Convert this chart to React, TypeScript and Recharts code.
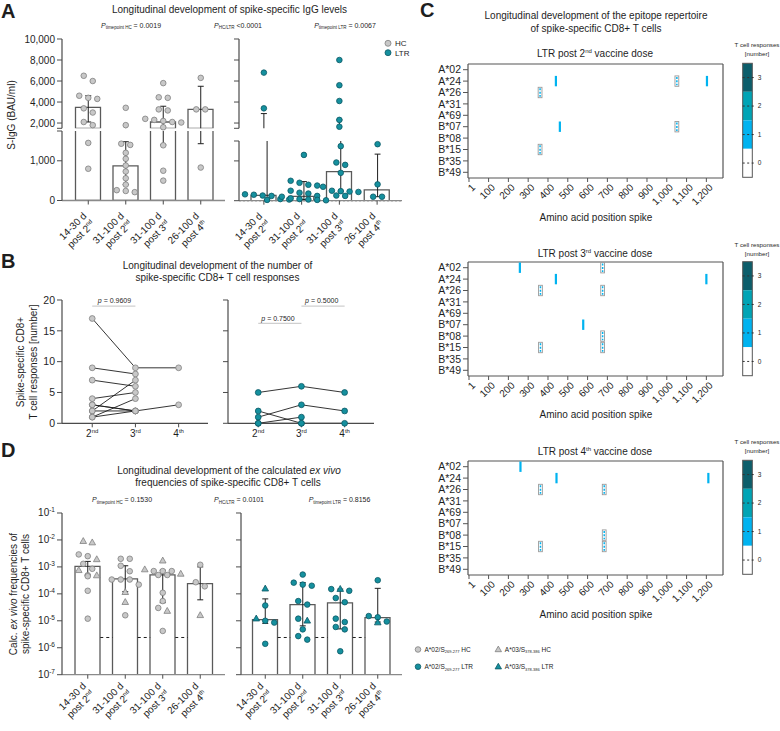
import React from 'react';
import {
  ComposedChart,
  ScatterChart,
  Bar,
  Line,
  Scatter,
  XAxis,
  YAxis,
  ReferenceLine,
} from 'recharts';

const FONT = '"Liberation Sans", Arial, Helvetica, sans-serif';
const INK = '#1e1e1e';
const AXIS = '#4a4a4a';
const GRAY_AXIS = '#8a8a8a';
const FRAME = '#555555';
const BAR_STROKE = '#5a5a5a';
const HC = { fill: '#c8c8c8', stroke: '#808080' };
const LTR = { fill: '#15909e', stroke: '#0b5864' };
const COUNT_COLORS = ['#ffffff', '#00b3f0', '#00a4b5', '#0c5e6b'];

// categories shared by panels A and D
const TIME_RANGE = ['14-30 d', '31-100 d', '31-100 d', '26-100 d'];
const TIME_DOSE = [2, 2, 3, 4];
const KEYS = TIME_RANGE.map((t, i) => `${t} post ${TIME_DOSE[i]}`);

// A: spike-specific IgG, BAU/ml
const IGG_HC = [
  [6500, 6000, 4600, 4400, 4300, 3400, 3000, 2100, 1800, 1450, 800],
  [3450, 1800, 1430, 1400, 1200, 1050, 880, 730, 560, 400, 260, 240, 210],
  [5800, 4450, 4400, 3300, 3200, 2400, 2300, 2200, 2100, 2050, 1600, 1390, 750, 500],
  [6300, 3300, 3300, 830],
];
const IGG_HC_MED = [3500, 870, 2100, 3300];
const IGG_HC_LO = [2100, 400, 1400, 1430];
const IGG_HC_HI = [4600, 1480, 3600, 5500];
const IGG_LTR = [
  [6800, 3400, 160, 150, 130, 120, 40, 30, 20],
  [1150, 500, 450, 400, 380, 250, 200, 180, 120, 100, 60, 40, 30, 20, 10],
  [8000, 5600, 4100, 2300, 1650, 1370, 960, 900, 700, 350, 250, 240, 230, 220, 130, 120],
  [1420, 410, 100, 100],
];
const IGG_LTR_MED = [135, 110, 730, 270];
const IGG_LTR_LO = [30, 30, 240, 100];
const IGG_LTR_HI = [2900, 480, 2300, 1170];
const IGG_UP_DOMAIN = [1500, 10000];
const IGG_UP_TICKS = [1500, 2000, 4000, 6000, 8000, 10000];

// B: number of CD8+ T cell responses per individual (2nd, 3rd, 4th dose)
const DOSES = [2, 3, 4];
const CD8_HC = [
  [17, 9, 9],
  [9, 8],
  [7, 6],
  [4, 5],
  [3, 2],
  [2, 7],
  [1, 4],
  [2, 2, 3],
  [1, 2],
  [3, 2],
];
const CD8_LTR = [
  [5, 6, 5],
  [1, 3, 2],
  [2, 0],
  [0, 1],
  [0, 0, 0],
];

// D: calculated ex vivo frequencies
const FREQ_HC_A02 = [
  [2.9e-3, 2.5e-3, 1.3e-3, 8.5e-4, 4.9e-4, 4.5e-4, 1.3e-4, 1.2e-5],
  [2e-3, 2e-3, 1.1e-3, 6.9e-4, 3.4e-4, 3.4e-4, 3.4e-4, 2.2e-4, 1.6e-5],
  [7e-4, 7e-4, 7e-4, 5e-4, 5e-4, 1.1e-4, 5.4e-5, 3e-5, 4.2e-6],
  [1.2e-3, 2.7e-4, 1.9e-4],
];
const FREQ_HC_A03 = [
  [8e-3, 9e-3, 1.9e-3, 7.5e-4, 4.8e-4],
  [1.15e-4, 4.9e-5],
  [1.7e-3, 8e-4, 5.5e-4, 2.3e-5],
  [1.6e-5],
];
const FREQ_HC_MED = [1.05e-3, 3.6e-4, 5.1e-4, 2.4e-4];
const FREQ_HC_LO = [5e-4, 1.2e-4, 4.7e-5, 6e-5];
const FREQ_HC_HI = [1.6e-3, 1.1e-3, 7.5e-4, 1e-3];
const FREQ_LTR_A02 = [
  [3.7e-5, 1e-5, 8.6e-6, 1.4e-6],
  [5.2e-4, 2.2e-4, 2.6e-4, 2e-4, 5.4e-5, 4e-5, 1.2e-5, 4.8e-6, 2e-6, 2.7e-6],
  [1.3e-4, 1.5e-4, 7e-5, 4.9e-5, 1.2e-5, 9e-6, 5.9e-6, 4.8e-6, 7.4e-7],
  [3.2e-4, 1.35e-5, 1.5e-5, 9.4e-6],
];
const FREQ_LTR_A03 = [[1.55e-4, 1.2e-5], [1e-5], [1.5e-4], [8.6e-6]];
const FREQ_LTR_MED = [1.1e-5, 4e-5, 4.6e-5, 1.3e-5];
const FREQ_LTR_LO = [8e-6, 6.5e-6, 5e-6, 9e-6];
const FREQ_LTR_HI = [6.5e-5, 2.6e-4, 1.5e-4, 1.6e-4];
const FREQ_DOMAIN = [1e-7, 1e-1];
const FREQ_TICKS = [1e-7, 1e-6, 1e-5, 1e-4, 1e-3, 1e-2, 1e-1];
const FREQ_LOD = 2.4e-6;

// C: epitope map
const ALLELES = ['A*02', 'A*24', 'A*26', 'A*31', 'A*69', 'B*07', 'B*08', 'B*15', 'B*35', 'B*49'];
const POS_TICKS = [1, 100, 200, 300, 400, 500, 600, 700, 800, 900, 1000, 1100, 1200];
const POS_DOMAIN = [-4, 1284];
const EPI_POST2 = [
  { allele: 'A*24', pos: 440, n: 1, hatch: false },
  { allele: 'A*24', pos: 1051, n: 1, hatch: true },
  { allele: 'A*24', pos: 1203, n: 1, hatch: false },
  { allele: 'A*26', pos: 360, n: 1, hatch: true },
  { allele: 'B*07', pos: 460, n: 1, hatch: false },
  { allele: 'B*07', pos: 1051, n: 1, hatch: true },
  { allele: 'B*15', pos: 360, n: 1, hatch: true },
];
const EPI_POST3 = [
  { allele: 'A*02', pos: 258, n: 1, hatch: false },
  { allele: 'A*02', pos: 676, n: 1, hatch: true },
  { allele: 'A*24', pos: 440, n: 1, hatch: false },
  { allele: 'A*24', pos: 1200, n: 1, hatch: false },
  { allele: 'A*26', pos: 362, n: 1, hatch: true },
  { allele: 'A*26', pos: 676, n: 1, hatch: true },
  { allele: 'B*07', pos: 578, n: 1, hatch: false },
  { allele: 'B*08', pos: 676, n: 1, hatch: true },
  { allele: 'B*15', pos: 362, n: 1, hatch: true },
  { allele: 'B*15', pos: 676, n: 1, hatch: true },
];
const EPI_POST4 = [
  { allele: 'A*02', pos: 261, n: 1, hatch: false },
  { allele: 'A*24', pos: 443, n: 1, hatch: false },
  { allele: 'A*24', pos: 1210, n: 1, hatch: false },
  { allele: 'A*26', pos: 362, n: 1, hatch: true },
  { allele: 'A*26', pos: 684, n: 1, hatch: true },
  { allele: 'B*08', pos: 684, n: 1, hatch: true },
  { allele: 'B*15', pos: 362, n: 1, hatch: true },
  { allele: 'B*15', pos: 684, n: 1, hatch: true },
];

type Rect = { x: number; y: number; w: number; h: number };

// plot rectangles (page px)
const A_UP_L = { x: 62, y: 39, w: 163, h: 89.3 };
const A_LO_L = { x: 62, y: 131.2, w: 163, h: 69.5 };
const A_UP_R = { x: 239, y: 39, w: 163, h: 89.3 };
const A_LO_R = { x: 239, y: 141, w: 163, h: 59.7 };
const B_L = { x: 62, y: 300, w: 146, h: 123.3 };
const B_R = { x: 227.5, y: 300, w: 146, h: 123.3 };
const D_L = { x: 62, y: 513.3, w: 163, h: 161.7 };
const D_R = { x: 240.7, y: 513.3, w: 161, h: 161.7 };
const BAND = 37.5;
const HALF_BAR = 12.5 / BAND;
const CAP = 3 / BAND;

const PAD = 70;
// visible axes reserve their own room; everything else goes into the margin
function frame(r: Rect, o: { x?: boolean; y?: boolean; top?: boolean; right?: boolean }) {
  return {
    style: { position: 'absolute' as const, left: r.x - PAD, top: r.y - PAD },
    width: r.w + 2 * PAD,
    height: r.h + 2 * PAD,
    margin: {
      top: o.top ? PAD - 1 : PAD,
      right: o.right ? PAD - 1 : PAD,
      bottom: o.x ? 0 : PAD,
      left: o.y ? 0 : PAD,
    },
  };
}

const lin = (v: number, r: Rect, d: number[]) => r.y + r.h - ((v - d[0]) / (d[1] - d[0])) * r.h;
const logPx = (v: number, r: Rect, d: number[]) =>
  r.y + r.h - ((Math.log10(v) - Math.log10(d[0])) / (Math.log10(d[1]) - Math.log10(d[0]))) * r.h;

// simple beeswarm: points closer than `gap` px vertically share a row and get spread sideways
function swarm(py: number[], gap = 5.5, step = 9) {
  const order = py.map((_, i) => i).sort((a, b) => py[a] - py[b]);
  const dx = py.map(() => 0);
  let i = 0;
  while (i < order.length) {
    let j = i;
    while (j + 1 < order.length && py[order[j + 1]] - py[order[i]] < gap) j++;
    const n = j - i + 1;
    for (let k = 0; k < n; k++) dx[order[i + k]] = (k - (n - 1) / 2) * step;
    i = j + 1;
  }
  return dx;
}

type Pt = { x: number; y: number; kind: string };
function spread(series: { kind: string; groups: number[][] }[], toPx: (v: number) => number): Pt[] {
  const out: Pt[] = [];
  KEYS.forEach((_, g) => {
    const col = series.flatMap((s) => s.groups[g].map((v) => ({ v, kind: s.kind })));
    const dx = swarm(col.map((c) => toPx(c.v)));
    col.forEach((c, i) => out.push({ x: g + 1 + dx[i] / BAND, y: c.v, kind: c.kind }));
  });
  return out;
}

const ord = (n: number) => (n === 2 ? 'nd' : n === 3 ? 'rd' : 'th');
const blank = () => '';

function TimeTick(props: any) {
  const { x, y, payload, dy = 10 } = props;
  const i = KEYS.indexOf(payload.value);
  if (i < 0) return <g />;
  return (
    <g transform={`translate(${x - 1},${y + dy}) rotate(-45)`} fill={INK} fontFamily={FONT} fontSize={10}>
      <text textAnchor="end">{TIME_RANGE[i]}</text>
      <text textAnchor="end" y={11.5}>
        post {TIME_DOSE[i]}
        <tspan fontSize={6} dy={-4}>
          {ord(TIME_DOSE[i])}
        </tspan>
      </text>
    </g>
  );
}

function LogTick({ x, y, payload }: any) {
  const e = Math.round(Math.log10(payload.value));
  return (
    <text x={x} y={y} dy={3.5} textAnchor="end" fontSize={10} fill={INK} fontFamily={FONT}>
      10
      <tspan fontSize={6.5} dy={-4}>
        {e}
      </tspan>
    </text>
  );
}

function DoseTick({ x, y, payload }: any) {
  const n = payload.value;
  return (
    <text x={x} y={y + 8} textAnchor="middle" fontSize={10} fill={INK} fontFamily={FONT}>
      {n}
      <tspan fontSize={6} dy={-4}>
        {ord(n)}
      </tspan>
    </text>
  );
}

const mark = (c: { fill: string; stroke: string }, r = 2.8) => (p: any) => {
  const { cx, cy, payload } = p;
  if (cx == null || cy == null) return <g />;
  if (payload && payload.kind === 'tri')
    return (
      <polygon
        points={`${cx},${cy - 3.6} ${cx - 3.3},${cy + 2.3} ${cx + 3.3},${cy + 2.3}`}
        fill={c.fill}
        stroke={c.stroke}
        strokeWidth={0.8}
      />
    );
  return <circle cx={cx} cy={cy} r={r} fill={c.fill} stroke={c.stroke} strokeWidth={0.8} />;
};

const axisTick = { fontSize: 10, fill: INK, fontFamily: FONT };

function BarDotChart(p: any) {
  const f = frame(p.r, { x: p.showX, y: true });
  const [d0, d1] = p.domain;
  // bars whose median lies below a broken-axis segment are not drawn in that segment
  const data = KEYS.map((k, i) => ({ k, med: p.med[i] >= d0 ? p.med[i] : null }));
  const scale = p.log ? 'log' : 'linear';
  const inside = (v: number) => v >= d0 && v <= d1;
  // dashed limit line only in the gaps between bars
  const gaps: number[][] = [];
  if (p.lod != null) {
    let from = 0.5 - p.pad.left / BAND;
    KEYS.forEach((_, g) => {
      gaps.push([from, g + 1 - HALF_BAR]);
      from = g + 1 + HALF_BAR;
    });
    gaps.push([from, 4.5 + p.pad.right / BAND]);
  }
  return (
    <div style={f.style}>
      <ComposedChart width={f.width} height={f.height} margin={f.margin} data={data}>
        <XAxis
          dataKey="k"
          height={PAD}
          padding={p.pad}
          hide={!p.showX}
          interval={0}
          axisLine={{ stroke: GRAY_AXIS, strokeWidth: 1.3 }}
          tickLine={{ stroke: AXIS }}
          tickSize={4}
          tick={<TimeTick dy={p.labelDy} />}
        />
        <XAxis xAxisId="n" dataKey="x" type="number" domain={[0.5, 4.5]} padding={p.pad} hide height={0} />
        <YAxis
          yAxisId="b"
          type="number"
          scale={scale}
          domain={p.domain}
          ticks={p.ticks}
          allowDataOverflow
          width={PAD}
          interval={0}
          axisLine={{ stroke: AXIS, strokeWidth: 1.2 }}
          tickLine={{ stroke: AXIS }}
          tickSize={5}
          tickMargin={2}
          tick={p.yTick || axisTick}
          tickFormatter={p.fmt}
        />
        <YAxis yAxisId="s" type="number" scale={scale} domain={p.domain} ticks={p.ticks} hide width={0} />
        {p.refY != null && (
          <ReferenceLine yAxisId="b" y={p.refY} stroke={INK} strokeWidth={1} strokeDasharray={p.refDash} />
        )}
        <Bar
          yAxisId="b"
          dataKey="med"
          barSize={25}
          fill="#fff"
          stroke={BAR_STROKE}
          strokeWidth={1.3}
          isAnimationActive={false}
        />
        {gaps.map(([a, b], i) => (
          <ReferenceLine
            key={'g' + i}
            xAxisId="n"
            yAxisId="b"
            segment={[
              { x: a, y: p.lod },
              { x: b, y: p.lod },
            ]}
            stroke={INK}
            strokeWidth={1}
            strokeDasharray="3 3"
          />
        ))}
        {KEYS.map((_, g) => (
          <ReferenceLine
            key={'w' + g}
            xAxisId="n"
            yAxisId="b"
            ifOverflow="hidden"
            segment={[
              { x: g + 1, y: p.lo[g] },
              { x: g + 1, y: p.hi[g] },
            ]}
            stroke={INK}
            strokeWidth={1}
          />
        ))}
        {KEYS.flatMap((_, g) =>
          [p.lo[g], p.hi[g]].filter(inside).map((v, j) => (
            <ReferenceLine
              key={'c' + g + '-' + j}
              xAxisId="n"
              yAxisId="b"
              segment={[
                { x: g + 1 - CAP, y: v },
                { x: g + 1 + CAP, y: v },
              ]}
              stroke={INK}
              strokeWidth={1}
            />
          ))
        )}
        <Scatter
          xAxisId="n"
          yAxisId="s"
          data={p.points}
          dataKey="y"
          shape={mark(p.col)}
          isAnimationActive={false}
        />
      </ComposedChart>
    </div>
  );
}

function CountChart({ r, series, col, labels }: any) {
  const f = frame(r, { x: true, y: true });
  const dots = series.flatMap((s: number[]) => s.map((v, i) => ({ dose: DOSES[i], v })));
  const bracket = (a: number, b: number, y: number) => (
    <ReferenceLine
      key={`${a}-${y}`}
      segment={[
        { x: a, y },
        { x: b, y },
      ]}
      stroke="#cfcfcf"
      strokeWidth={1.3}
    />
  );
  return (
    <div style={f.style}>
      <ComposedChart width={f.width} height={f.height} margin={f.margin}>
        <XAxis
          type="number"
          dataKey="dose"
          domain={[1.3, 4.68]}
          ticks={DOSES}
          interval={0}
          height={PAD}
          axisLine={{ stroke: AXIS, strokeWidth: 1.2 }}
          tickLine={{ stroke: AXIS }}
          tickSize={4}
          tick={<DoseTick />}
        />
        <YAxis
          type="number"
          domain={[0, 20]}
          ticks={[0, 5, 10, 15, 20]}
          interval={0}
          width={PAD}
          axisLine={{ stroke: AXIS, strokeWidth: 1.2 }}
          tickLine={{ stroke: AXIS }}
          tickSize={5}
          tickMargin={2}
          tick={{ ...axisTick, fontSize: 10.5 }}
          tickFormatter={labels ? undefined : blank}
        />
        {series.map((s: number[], k: number) => (
          <Line
            key={k}
            data={s.map((v, i) => ({ dose: DOSES[i], v }))}
            dataKey="v"
            stroke={INK}
            strokeWidth={0.9}
            dot={false}
            isAnimationActive={false}
          />
        ))}
        <Scatter data={dots} dataKey="v" shape={mark(col, 2.9)} isAnimationActive={false} />
        {labels ? bracket(2, 3, 19) : [bracket(2, 3, 16.2), bracket(3, 4, 19)]}
      </ComposedChart>
    </div>
  );
}

const epiShape = (band: number) => (p: any) => {
  const { cx, cy, payload } = p;
  if (cx == null || cy == null) return <g />;
  const h = band - 1;
  if (payload.hatch)
    return (
      <g>
        <rect x={cx - 1.9} y={cy - h / 2} width={3.8} height={h} fill="#fff" stroke="#9a9a9a" strokeWidth={0.9} />
        <line
          x1={cx}
          x2={cx}
          y1={cy - h / 2 + 1}
          y2={cy + h / 2 - 1}
          stroke={COUNT_COLORS[payload.n]}
          strokeWidth={1.5}
          strokeDasharray="2 1.4"
        />
      </g>
    );
  return <rect x={cx - 1.1} y={cy - h / 2} width={2.2} height={h} fill={COUNT_COLORS[payload.n]} />;
};

function EpiMap({ top, data }: any) {
  const r = { x: 468.3, y: top, w: 255, h: 114 };
  const f = frame(r, { x: true, y: true, top: true, right: true });
  const pts = data.map((d: any) => ({ pos: d.pos, row: ALLELES.indexOf(d.allele), n: d.n, hatch: d.hatch }));
  const band = r.h / ALLELES.length;
  const line = { stroke: FRAME, strokeWidth: 1.2 };
  return (
    <div style={f.style}>
      <ScatterChart width={f.width} height={f.height} margin={f.margin}>
        <XAxis
          type="number"
          dataKey="pos"
          domain={POS_DOMAIN}
          ticks={POS_TICKS}
          interval={0}
          allowDataOverflow
          height={PAD}
          axisLine={line}
          tickLine={{ stroke: FRAME }}
          tickSize={4}
          tickMargin={1}
          tick={{ ...axisTick, angle: -45, textAnchor: 'end', dx: 2 }}
          tickFormatter={(v: number) => v.toLocaleString('en-US')}
        />
        <XAxis
          xAxisId="top"
          orientation="top"
          type="number"
          domain={POS_DOMAIN}
          height={1}
          tick={false}
          tickLine={false}
          axisLine={line}
        />
        <YAxis
          type="number"
          dataKey="row"
          domain={[-0.5, ALLELES.length - 0.5]}
          reversed
          ticks={ALLELES.map((_, i) => i)}
          interval={0}
          width={PAD}
          axisLine={line}
          tickLine={{ stroke: FRAME }}
          tickSize={5}
          tickMargin={2}
          tick={{ ...axisTick, fontSize: 10.5 }}
          tickFormatter={(i: number) => ALLELES[i]}
        />
        <YAxis
          yAxisId="right"
          orientation="right"
          type="number"
          domain={[0, 1]}
          width={1}
          tick={false}
          tickLine={false}
          axisLine={line}
        />
        <Scatter data={pts} shape={epiShape(band)} isAnimationActive={false} />
      </ScatterChart>
    </div>
  );
}

function PVal({ x, y, sub, val }: any) {
  return (
    <text x={x} y={y} textAnchor="middle" fontSize={7}>
      <tspan fontStyle="italic">P</tspan>
      <tspan fontSize={4.5} dy={1.5}>
        {sub}
      </tspan>
      <tspan dy={-1.5}>{val}</tspan>
    </text>
  );
}

function ColorBar({ top, titleY }: any) {
  const x = 742.7;
  const w = 9.6;
  const h = 114;
  const seg = h / 4;
  const levels = [3, 2, 1, 0];
  return (
    <g>
      <text x={757} y={titleY} fontSize={6.2} textAnchor="middle">
        T cell responses
      </text>
      <text x={757} y={titleY + 9} fontSize={6.2} textAnchor="middle">
        [number]
      </text>
      {levels.map((n, i) => (
        <rect key={'r' + n} x={x} y={top + i * seg} width={w} height={seg} fill={COUNT_COLORS[n]} />
      ))}
      <rect x={x} y={top} width={w} height={h} fill="none" stroke={FRAME} strokeWidth={1} />
      {levels.map((n, i) => {
        const cy = top + (i + 0.5) * seg;
        return (
          <g key={'t' + n}>
            <line x1={x} x2={x + w + 2.5} y1={cy} y2={cy} stroke="#333" strokeDasharray="2 2.5" strokeWidth={1} />
            <text x={x + 15} y={cy + 2.3} fontSize={6.5}>
              {n}
            </text>
          </g>
        );
      })}
    </g>
  );
}

function LegendItem({ x, y, col, tri, sub, tail }: any) {
  return (
    <g>
      {tri ? (
        <polygon
          points={`${x},${y - 3.4} ${x - 3.2},${y + 2.2} ${x + 3.2},${y + 2.2}`}
          fill={col.fill}
          stroke={col.stroke}
          strokeWidth={0.8}
        />
      ) : (
        <circle cx={x} cy={y} r={2.8} fill={col.fill} stroke={col.stroke} strokeWidth={0.8} />
      )}
      <text x={x + 6.5} y={y + 2.3} fontSize={6.5}>
        {tri ? 'A*03/S' : 'A*02/S'}
        <tspan fontSize={4} dy={1.5}>
          {sub}
        </tspan>
        <tspan dy={-1.5}>{tail}</tspan>
      </text>
    </g>
  );
}

function Overlay() {
  return (
    <svg width={780} height={731} style={{ position: 'absolute', left: 0, top: 0, pointerEvents: 'none' }}>
      <g fill={INK} fontFamily={FONT}>
        <text x={1} y={18} fontSize={20} fontWeight="bold">A</text>
        <text x={1} y={268} fontSize={20} fontWeight="bold">B</text>
        <text x={420} y={17} fontSize={20} fontWeight="bold">C</text>
        <text x={1} y={457} fontSize={20} fontWeight="bold">D</text>

        {/* A */}
        <text x={229.5} y={12.5} fontSize={10} textAnchor="middle">
          Longitudinal development of spike-specific IgG levels
        </text>
        <PVal x={131} y={27.5} sub="timepoint HC" val=" = 0.0019" />
        <PVal x={238} y={27.5} sub="HC/LTR" val=" <0.0001" />
        <PVal x={345} y={27.5} sub="timepoint LTR" val=" = 0.0067" />
        <circle cx={388} cy={43.3} r={3} fill={HC.fill} stroke={HC.stroke} strokeWidth={0.8} />
        <text x={395} y={46.3} fontSize={8}>HC</text>
        <circle cx={388} cy={52.7} r={3} fill={LTR.fill} stroke={LTR.stroke} strokeWidth={0.8} />
        <text x={395} y={55.7} fontSize={8}>LTR</text>
        <text transform="translate(15,115) rotate(-90)" fontSize={10} textAnchor="middle">
          S-IgG (BAU/ml)
        </text>

        {/* B */}
        <text x={217.5} y={268.5} fontSize={10} textAnchor="middle">
          Longitudinal development of the number of
        </text>
        <text x={217.5} y={281} fontSize={10} textAnchor="middle">
          spike-specific CD8+ T cell responses
        </text>
        <text transform="translate(24,362) rotate(-90)" fontSize={10} textAnchor="middle">
          Spike-specific CD8+
        </text>
        <text transform="translate(36.5,362) rotate(-90)" fontSize={10} textAnchor="middle">
          T cell responses [number]
        </text>
        <text x={114.5} y={303} fontSize={7} textAnchor="middle">
          <tspan fontStyle="italic">p</tspan> = 0.9609
        </text>
        <text x={278} y={320.5} fontSize={7} textAnchor="middle">
          <tspan fontStyle="italic">p</tspan> = 0.7500
        </text>
        <text x={321.7} y={303} fontSize={7} textAnchor="middle">
          <tspan fontStyle="italic">p</tspan> = 0.5000
        </text>

        {/* C */}
        <text x={596} y={18.5} fontSize={10} textAnchor="middle">
          Longitudinal development of the epitope repertoire
        </text>
        <text x={596} y={32} fontSize={10} textAnchor="middle">
          of spike-specific CD8+ T cells
        </text>
        {[
          [57, '2', 'nd', 220.5],
          [256.5, '3', 'rd', 417.5],
          [454.5, '4', 'th', 617.5],
        ].map(([y, n, s, ly]: any) => (
          <g key={n}>
            <text x={595} y={y} fontSize={10} textAnchor="middle">
              LTR post {n}
              <tspan fontSize={6} dy={-4}>
                {s}
              </tspan>
              <tspan dy={4}> vaccine dose</tspan>
            </text>
            <text x={596} y={ly} fontSize={10} textAnchor="middle">
              Amino acid position spike
            </text>
          </g>
        ))}
        <ColorBar top={63.3} titleY={47} />
        <ColorBar top={261.7} titleY={246.5} />
        <ColorBar top={460.3} titleY={444} />

        {/* D */}
        <text x={229} y={473.5} fontSize={10} textAnchor="middle">
          Longitudinal development of the calculated <tspan fontStyle="italic">ex vivo</tspan>
        </text>
        <text x={228} y={486} fontSize={10} textAnchor="middle">
          frequencies of spike-specific CD8+ T cells
        </text>
        <PVal x={122} y={502} sub="timepoint HC" val=" = 0.1530" />
        <PVal x={239} y={502} sub="HC/LTR" val=" = 0.0101" />
        <PVal x={339.5} y={502} sub="timepoint LTR" val=" = 0.8156" />
        <text transform="translate(16.5,594) rotate(-90)" fontSize={10} textAnchor="middle">
          Calc. <tspan fontStyle="italic">ex vivo</tspan> frequencies of
        </text>
        <text transform="translate(28.5,594) rotate(-90)" fontSize={10} textAnchor="middle">
          spike-specific CD8+ T cells
        </text>
        <LegendItem x={418} y={649.5} col={HC} sub="269-277" tail=" HC" />
        <LegendItem x={498.3} y={649.5} col={HC} tri sub="378-386" tail=" HC" />
        <LegendItem x={418} y={666.7} col={LTR} sub="269-277" tail=" LTR" />
        <LegendItem x={498.3} y={666.7} col={LTR} tri sub="378-386" tail=" LTR" />
      </g>
    </svg>
  );
}

export default function App() {
  const igUp = IGG_UP_DOMAIN;
  const loL = [0, 1750];
  const loR = [0, 1500];
  const pxL = (v: number) => (v >= igUp[0] ? lin(v, A_UP_L, igUp) : lin(v, A_LO_L, loL));
  const pxR = (v: number) => (v >= igUp[0] ? lin(v, A_UP_R, igUp) : lin(v, A_LO_R, loR));
  const hcPts = spread([{ kind: 'c', groups: IGG_HC }], pxL);
  const ltrPts = spread([{ kind: 'c', groups: IGG_LTR }], pxR);
  const fmtIgg = (v: number) => (v === 1500 || v === 1750 ? '' : v.toLocaleString('en-US'));
  const padL = { left: 7.5, right: 5.5 };
  const padR = { left: 6, right: 6 };

  const dHc = spread(
    [
      { kind: 'c', groups: FREQ_HC_A02 },
      { kind: 'tri', groups: FREQ_HC_A03 },
    ],
    (v) => logPx(v, D_L, FREQ_DOMAIN)
  );
  const dLtr = spread(
    [
      { kind: 'c', groups: FREQ_LTR_A02 },
      { kind: 'tri', groups: FREQ_LTR_A03 },
    ],
    (v) => logPx(v, D_R, FREQ_DOMAIN)
  );

  const common = { med: IGG_HC_MED, lo: IGG_HC_LO, hi: IGG_HC_HI, col: HC, pad: padL, fmt: fmtIgg };
  const commonR = { med: IGG_LTR_MED, lo: IGG_LTR_LO, hi: IGG_LTR_HI, col: LTR, pad: padR, fmt: blank };

  return (
    <div
      style={{
        position: 'absolute',
        left: 0,
        top: 0,
        width: 780,
        height: 731,
        overflow: 'hidden',
        background: '#fff',
        fontFamily: FONT,
      }}
    >
      {/* A */}
      <BarDotChart
        {...common}
        r={A_UP_L}
        domain={igUp}
        ticks={IGG_UP_TICKS}
        points={hcPts.filter((d) => d.y >= igUp[0])}
      />
      <BarDotChart
        {...common}
        r={A_LO_L}
        domain={loL}
        ticks={[0, 1000, 1750]}
        showX
        labelDy={10}
        refY={0}
        refDash="2 2"
        points={hcPts.filter((d) => d.y < igUp[0])}
      />
      <BarDotChart
        {...commonR}
        r={A_UP_R}
        domain={igUp}
        ticks={IGG_UP_TICKS}
        points={ltrPts.filter((d) => d.y >= igUp[0])}
      />
      <BarDotChart
        {...commonR}
        r={A_LO_R}
        domain={loR}
        ticks={[0, 1000, 1500]}
        showX
        labelDy={10}
        refY={0}
        refDash="2 2"
        points={ltrPts.filter((d) => d.y < igUp[0])}
      />

      {/* B */}
      <CountChart r={B_L} series={CD8_HC} col={HC} labels />
      <CountChart r={B_R} series={CD8_LTR} col={LTR} labels={false} />

      {/* C */}
      <EpiMap top={63.5} data={EPI_POST2} />
      <EpiMap top={262} data={EPI_POST3} />
      <EpiMap top={460.5} data={EPI_POST4} />

      {/* D */}
      <BarDotChart
        r={D_L}
        log
        domain={FREQ_DOMAIN}
        ticks={FREQ_TICKS}
        yTick={<LogTick />}
        med={FREQ_HC_MED}
        lo={FREQ_HC_LO}
        hi={FREQ_HC_HI}
        col={HC}
        pad={{ left: 7, right: 6 }}
        showX
        labelDy={6}
        lod={FREQ_LOD}
        points={dHc}
      />
      <BarDotChart
        r={D_R}
        log
        domain={FREQ_DOMAIN}
        ticks={FREQ_TICKS}
        fmt={blank}
        med={FREQ_LTR_MED}
        lo={FREQ_LTR_LO}
        hi={FREQ_LTR_HI}
        col={LTR}
        pad={{ left: 5.5, right: 5.5 }}
        showX
        labelDy={6}
        lod={FREQ_LOD}
        points={dLtr}
      />

      <Overlay />
    </div>
  );
}
